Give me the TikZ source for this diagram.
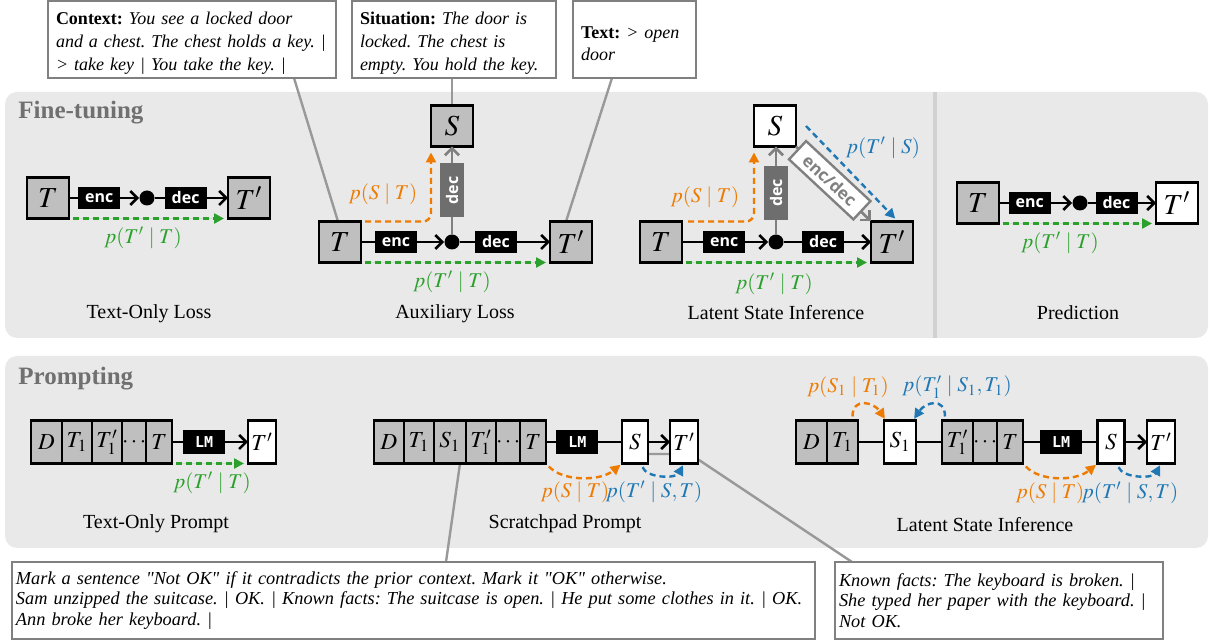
\documentclass[tikz,border=0pt]{standalone}
\usepackage{mathptmx}
\usepackage[no-math]{fontspec}
\setmainfont{Liberation Serif}
\newfontfamily\notefont{Liberation Serif}[Ligatures=ResetAll]
\newfontfamily\encfont{Open Sans}
\newfontfamily\lmfont{DejaVu Sans Mono}
\usetikzlibrary{arrows.meta,positioning}

\newlength{\du}
\setlength{\du}{0.5pt}

\definecolor{panelgrey}{rgb}{0.914,0.914,0.914}
\definecolor{dividergrey}{rgb}{0.820,0.820,0.820}
\definecolor{boxgrey}{rgb}{0.750,0.750,0.750}
\definecolor{titlegrey}{rgb}{0.440,0.440,0.440}
\definecolor{linegrey}{rgb}{0.600,0.600,0.600}
\definecolor{framegrey}{rgb}{0.500,0.500,0.500}
\definecolor{decgrey}{rgb}{0.430,0.430,0.430}
\definecolor{porange}{rgb}{0.933,0.478,0.000}
\definecolor{pgreen}{rgb}{0.173,0.627,0.173}
\definecolor{pblue}{rgb}{0.122,0.467,0.706}

\pgfdeclarelayer{back}
\pgfdeclarelayer{bg}
\pgfsetlayers{back,bg,main}

\tikzset{
  tbox/.style={draw=black, fill=boxgrey, line width=1.2pt, minimum width=42\du, minimum height=41\du,
    inner sep=0pt, outer sep=0pt, font=\fontsize{14.5}{14.5}\selectfont},
  wbox/.style={tbox, fill=white},
  cell/.style={draw=black, fill=boxgrey, line width=1.2pt, minimum height=43\du,
    inner sep=0pt, outer sep=0pt, font=\fontsize{11.5}{11.5}\selectfont},
  wcell/.style={cell, fill=white},
  codebox/.style={fill=black, text=white, minimum width=42\du, minimum height=22\du, inner sep=0pt,
    font=\encfont\bfseries\fontsize{8}{8}\selectfont},
  lmbox/.style={codebox, minimum height=24\du, font=\lmfont\bfseries\fontsize{7.5}{7.5}\selectfont},
  gdecbox/.style={fill=decgrey, text=white, minimum width=54\du, minimum height=24\du, inner sep=0pt,
    font=\encfont\bfseries\fontsize{8}{8}\selectfont},
  edbox/.style={draw=framegrey, fill=white, text=framegrey, line width=1.2pt, minimum width=88\du,
    minimum height=25\du, inner sep=0pt, font=\encfont\bfseries\fontsize{8.5}{8.5}\selectfont},
  joint/.style={circle, fill=black, minimum size=15\du, inner sep=0pt},
  flow/.style={line width=1.3pt, -{Straight Barb[length=3.5pt,width=7pt]}},
  gflow/.style={flow, draw=framegrey},
  plain/.style={line width=1.3pt},
  pdash/.style={line width=1.2pt, dash pattern=on 3pt off 2pt, -{Triangle[length=5pt,width=5pt]}},
  gdash/.style={pdash, draw=pgreen, fill=pgreen, shorten <=2pt, shorten >=2pt},
  odash/.style={pdash, draw=porange},
  bdash/.style={pdash, draw=pblue},
  glab/.style={text=pgreen, font=\fontsize{10.5}{12}\selectfont},
  olab/.style={text=porange, font=\fontsize{10.5}{12}\selectfont},
  blab/.style={text=pblue, font=\fontsize{10.5}{12}\selectfont},
  captxt/.style={font=\fontsize{10}{12}\selectfont},
  ttl/.style={anchor=west, inner xsep=0pt, text=titlegrey, font=\bfseries\fontsize{12.5}{14}\selectfont},
  notebox/.style={draw=framegrey, fill=white, line width=1.2pt, anchor=north west, align=left,
    inner xsep=8\du, inner ysep=0pt, outer sep=0pt, font=\frenchspacing\fontsize{9}{11.3}\selectfont},
  factbox/.style={notebox, minimum height=77\du, inner xsep=4\du,
    font=\notefont\frenchspacing\fontsize{9.15}{10.3}\selectfont},
  callout/.style={draw=linegrey, line width=1.2pt}
}

\begin{document}
\begin{tikzpicture}
\pgftransformxscale{1.000000}
\pgftransformyscale{-1.000000}
\useasboundingbox (0\du,0\du) rectangle (1212\du,641\du);

% panels
\begin{pgfonlayer}{back}
\fill[panelgrey, rounded corners=6pt] (5\du,92\du) rectangle (1208\du,338\du);
\fill[panelgrey, rounded corners=6pt] (5\du,356\du) rectangle (1208\du,548\du);
\draw[dividergrey, line width=2pt] (935\du,92\du) -- (935\du,338\du);
\end{pgfonlayer}

\node[ttl] (fttitle) at (18\du,113\du) {Fine-tuning};
\node[ttl] (prtitle) at (18\du,379\du) {Prompting};

% example texts
\node[notebox, minimum height=77\du, text width=272\du] (ctxbox) at (48\du,1\du)
  {\rule{0pt}{10pt}\textbf{Context:} \textit{You see a locked door}\\\textit{and a chest. The chest holds a key. |}\\\textit{> take key | You take the key. |}};
\node[notebox, minimum height=77\du, text width=188\du] (sitbox) at (352\du,1\du)
  {\rule{0pt}{10pt}\textbf{Situation:} \textit{The door is}\\\textit{locked. The chest is}\\\textit{empty. You hold the key.}};
\node[notebox, minimum height=77\du, text width=107\du] (txtbox) at (573\du,1\du)
  {\rule{0pt}{10pt}\textbf{Text:} \textit{> open}\\\textit{door}};
\node[factbox, text width=795\du] (lbox) at (12\du,562\du)
  {\textit{Mark a sentence "Not OK" if it contradicts the prior context. Mark it "OK" otherwise.}\\\textit{Sam unzipped the suitcase. | OK. | Known facts: The suitcase is open. | He put some clothes in it. | OK.}\\\textit{Ann broke her keyboard. |}};
\node[factbox, text width=320\du] (rbox) at (835\du,562\du)
  {\textit{Known facts: The keyboard is broken. |}\\\textit{She typed her paper with the keyboard. |}\\\textit{Not OK.}};

% text-only loss
\node[tbox] (toT) at (48\du,198\du) {$T$};
\node[joint] (todot) at (147\du,198\du) {};
\node[tbox] (toTp) at (249\du,198\du) {$T'$};
\draw[flow] (toT) -- (todot) node[codebox, pos=.43] (toenc) {enc};
\draw[flow] (todot) -- (toTp) node[codebox, pos=.42] (todec) {dec};
\draw[gdash] (toT.south east) -- (toTp.south west);
\node[glab] (toptt) at (143\du,238\du) {$p(T'\mid T)$};
\node[captxt] (tocap) at (149\du,314\du) {Text-Only Loss};

% auxiliary loss
\node[tbox] (auxT) at (340\du,242\du) {$T$};
\node[joint] (auxdot) at (452\du,242\du) {};
\node[tbox] (auxTp) at (571\du,242\du) {$T'$};
\node[tbox] (auxS) at (452\du,126\du) {$S$};
\draw[flow] (auxT) -- (auxdot) node[codebox, pos=.42] (auxenc) {enc};
\draw[flow] (auxdot) -- (auxTp) node[codebox, pos=.40] (auxdec) {dec};
\draw[gflow] (auxdot) -- (auxS) node[gdecbox, pos=.5, rotate=90] (auxSdec) {dec};
\draw[odash, rounded corners=4pt, shorten <=2pt, shorten >=3pt] (auxT.north east) -| (auxS.south west);
\draw[gdash] (auxT.south east) -- (auxTp.south west);
\node[olab] (auxpst) at (383\du,194\du) {$p(S\mid T)$};
\node[glab] (auxptt) at (452\du,282\du) {$p(T'\mid T)$};
\node[captxt] (auxcap) at (455\du,314\du) {Auxiliary Loss};

% latent state inference
\node[tbox] (lsT) at (661\du,242\du) {$T$};
\node[joint] (lsdot) at (776\du,242\du) {};
\node[tbox] (lsTp) at (892\du,242\du) {$T'$};
\node[wbox] (lsS) at (775\du,126\du) {$S$};
\draw[flow] (lsT) -- (lsdot) node[codebox, pos=.49] (lsenc) {enc};
\draw[flow] (lsdot) -- (lsTp) node[codebox, pos=.45] (lsdec) {dec};
\draw[gflow] (lsdot) -- (lsdot |- lsS.south) node[gdecbox, pos=.47, rotate=90] (lsSdec) {dec};
\draw[gflow] (lsS.south east) -- (lsTp.north west) node[edbox, pos=.45, rotate=-43] (lsencdec) {enc/dec};
\draw[odash, rounded corners=4pt, shorten <=3pt, shorten >=3pt] (lsT.north east) -| (lsS.south west);
\draw[bdash, shorten >=2pt] ([xshift=10\du]lsS.east) -- ([xshift=6\du]lsTp.north);
\draw[gdash] (lsT.south east) -- (lsTp.south west);
\node[olab] (lspst) at (705\du,197\du) {$p(S\mid T)$};
\node[blab] (lspts) at (883\du,148\du) {$p(T'\mid S)$};
\node[glab] (lsptt) at (774\du,284\du) {$p(T'\mid T)$};
\node[captxt] (lscap) at (776\du,313\du) {Latent State Inference};

% prediction
\node[tbox] (prT) at (978\du,203\du) {$T$};
\node[joint] (prdot) at (1080\du,203\du) {};
\node[wbox] (prTp) at (1177\du,203\du) {$T'$};
\draw[flow] (prT) -- (prdot) node[codebox, pos=.42] (prenc) {enc};
\draw[flow] (prdot) -- (prTp) node[codebox, pos=.42] (prdec) {dec};
\draw[gdash] (prT.south east) -- (prTp.south west);
\node[glab] (prptt) at (1060\du,243\du) {$p(T'\mid T)$};
\node[captxt] (prcap) at (1078\du,313\du) {Prediction};

% text-only prompt
\node[cell, minimum width=31\du, anchor=west] (pD) at (31\du,442\du) {$D$};
\node[cell, minimum width=30\du, right=0pt of pD] (pT1) {$T_1$};
\node[cell, minimum width=30\du, right=0pt of pT1] (pT1p) {$T'_1$};
\node[cell, minimum width=24\du, right=0pt of pT1p] (pdots) {$\cdots$};
\node[cell, minimum width=26\du, right=0pt of pdots] (pT) {$T$};
\node[wcell, minimum width=28\du] (pTp) at (262\du,442\du) {$T'$};
\draw[flow] (pT) -- (pTp) node[lmbox, pos=.42] (pLM) {LM};
\draw[gdash] (pT.south east) -- (pTp.south west);
\node[glab] (pptt) at (212\du,483\du) {$p(T'\mid T)$};
\node[captxt] (pcap) at (156\du,524\du) {Text-Only Prompt};

% scratchpad prompt
\node[cell, minimum width=30\du, anchor=west] (sD) at (374\du,442\du) {$D$};
\node[cell, minimum width=30\du, right=0pt of sD] (sT1) {$T_1$};
\node[cell, minimum width=32\du, right=0pt of sT1] (sS1) {$S_1$};
\node[cell, minimum width=30\du, right=0pt of sS1] (sT1p) {$T'_1$};
\node[cell, minimum width=23\du, right=0pt of sT1p] (sdots) {$\cdots$};
\node[cell, minimum width=26\du, right=0pt of sdots] (sT) {$T$};
\node[wcell, minimum width=26\du] (sS) at (635\du,442\du) {$S$};
\node[wcell, minimum width=28\du] (sTp) at (684\du,442\du) {$T'$};
\draw[plain] (sT) -- (sS) node[lmbox, pos=.41] (sLM) {LM};
\draw[flow] (sS) -- (sTp);
\draw[odash, shorten <=2pt, shorten >=1pt] (sT.south east) .. controls +(16\du,18\du) and +(-22\du,18\du) .. (sS.south west);
\draw[bdash, shorten <=2pt, shorten >=1pt] ([xshift=6\du]sS.south) .. controls +(6\du,15\du) and +(-8\du,15\du) .. (sTp.south);
\node[olab] (spst) at (575\du,492\du) {$p(S\mid T)$};
\node[blab] (spts) at (654\du,492\du) {$p(T'\mid S,T)$};
\node[captxt] (scap) at (565\du,524\du) {Scratchpad Prompt};
\coordinate (sbend) at (690\du,454\du);

% latent state inference prompt
\node[cell, minimum width=31\du, anchor=west] (lD) at (796\du,442\du) {$D$};
\node[cell, minimum width=31\du, right=0pt of lD] (lT1) {$T_1$};
\node[wcell, minimum width=32\du] (lS1) at (900\du,442\du) {$S_1$};
\node[cell, minimum width=31\du, anchor=west] (lT1p) at (942\du,442\du) {$T'_1$};
\node[cell, minimum width=23\du, right=0pt of lT1p] (ldots) {$\cdots$};
\node[cell, minimum width=26\du, right=0pt of ldots] (lT) {$T$};
\node[wcell, minimum width=27\du] (lS) at (1111\du,442\du) {$S$};
\node[wcell, minimum width=28\du] (lTp) at (1161\du,442\du) {$T'$};
\draw[plain] (lT1) -- (lS1);
\draw[plain] (lS1) -- (lT1p);
\draw[plain] (lT) -- (lS) node[lmbox, pos=.51] (lLM) {LM};
\draw[flow] (lS) -- (lTp);
\draw[odash, shorten <=2pt, shorten >=1pt] ([xshift=10\du]lT1.north) .. controls +(0\du,-24\du) and +(-12\du,-18\du) .. ([xshift=2\du]lS1.north west);
\draw[bdash, shorten <=2pt, shorten >=1pt] ([xshift=3\du]lT1p.north west) .. controls +(0\du,-24\du) and +(12\du,-18\du) .. ([xshift=-3\du]lS1.north east);
\draw[odash, shorten <=2pt, shorten >=1pt] (lT.south east) .. controls +(16\du,18\du) and +(-22\du,18\du) .. (lS.south west);
\draw[bdash, shorten <=2pt, shorten >=1pt] ([xshift=6\du]lS.south) .. controls +(6\du,15\du) and +(-8\du,15\du) .. (lTp.south);
\node[olab] (lps1t1) at (848\du,387\du) {$p(S_1\mid T_1)$};
\node[blab] (lpt1s1) at (957\du,387\du) {$p(T'_1\mid S_1,T_1)$};
\node[olab] (lpst) at (1050\du,493\du) {$p(S\mid T)$};
\node[blab] (lpts) at (1130\du,493\du) {$p(T'\mid S,T)$};
\node[captxt] (lcap) at (985\du,525\du) {Latent State Inference};

% callout lines
\begin{pgfonlayer}{bg}
\draw[callout] ([xshift=-42\du]ctxbox.south east) -- ([xshift=19\du]auxT.north west);
\draw[callout] (auxS.north |- sitbox.south) -- (auxS.north);
\draw[callout] ([xshift=-84\du]txtbox.south east) -- ([xshift=16\du]auxTp.north west);
\draw[callout] ([xshift=10\du]sS1.south) -- ([xshift=434\du]lbox.north west);
\draw[callout] (sS.east |- sbend) -- (sbend) -- ([xshift=17\du]rbox.north west);
\end{pgfonlayer}
\end{tikzpicture}
\end{document}
